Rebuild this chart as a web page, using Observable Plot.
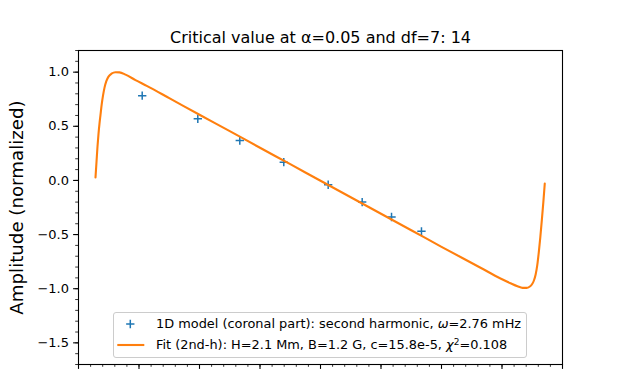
<!DOCTYPE html>
<html>
<head>
<meta charset="utf-8">
<script src="https://cdn.jsdelivr.net/npm/d3@7"></script>
<script src="https://cdn.jsdelivr.net/npm/@observablehq/plot@0.6"></script>
<style>
  html, body { margin: 0; padding: 0; background: #fff; }
  #wrap { position: relative; width: 624px; height: 372px; font-family: "DejaVu Sans", sans-serif; }
  #legend { position: absolute; left: 113px; top: 312px; width: 414px; height: 46px; box-sizing: border-box;
            border: 1px solid #cccccc; border-radius: 3px; background: rgba(255,255,255,0.8); font-size: 12.9px; color: #000; }
  .row { position: absolute; left: 0; height: 16px; line-height: 16px; white-space: nowrap; }
  .row svg { position: absolute; left: 0; top: 0; }
  .row span.t { position: absolute; left: 42px; top: 0; }
  sup { font-size: 0.7em; vertical-align: 0; position: relative; top: -0.5em; line-height: 0; }
</style>
</head>
<body>
<div id="wrap"></div>
<script>
// ---- data ----
const pointX = [1.053, 1.972, 2.666, 3.393, 4.127, 4.689, 5.174, 5.669];
const pointY = [0.783, 0.569, 0.369, 0.169, -0.040, -0.200, -0.338, -0.470];

const fitX = [0.281, 0.298, 0.314, 0.331, 0.347, 0.364, 0.383, 0.405, 0.430, 0.460, 0.496, 0.545, 0.612, 0.678, 0.777, 0.942, 1.136, 1.500, 2.000, 2.500, 3.000, 3.500, 4.000, 4.500, 5.000, 5.500, 6.000, 6.645, 6.975, 7.140, 7.256, 7.339, 7.405, 7.455, 7.496, 7.529, 7.557, 7.583, 7.608, 7.633, 7.658, 7.683, 7.707];
const fitY = [0.028, 0.175, 0.313, 0.433, 0.525, 0.608, 0.700, 0.783, 0.857, 0.917, 0.959, 0.986, 0.999, 0.998, 0.977, 0.927, 0.871, 0.760, 0.607, 0.455, 0.302, 0.150, -0.003, -0.155, -0.308, -0.460, -0.613, -0.806, -0.906, -0.949, -0.977, -0.992, -0.992, -0.982, -0.959, -0.922, -0.866, -0.783, -0.664, -0.525, -0.369, -0.203, -0.028];

const yMajorTicks = [-1.5, -1.0, -0.5, 0.0, 0.5, 1.0];
const yMinorTicks = d3.range(-17, 13).map(v => v / 10);
const xMajorTicks = d3.range(0, 9);
const xMinorTicks = d3.range(0, 41).map(v => v / 5);

const titleText = "Critical value at α=0.05 and df=7: 14";
const yLabelText = "Amplitude (normalized)";

const points = pointX.map((x, i) => ({x, y: pointY[i]}));
const fit = fitX.map((x, i) => ({x, y: fitY[i]}));

const fmt = d => d.toFixed(1).replace("-", "\u2212");

const chart = Plot.plot({
  width: 624,
  height: 372,
  marginLeft: 78,
  marginRight: 62,
  marginTop: 50,
  marginBottom: 8,
  x: {domain: [0, 8]},
  y: {domain: [-1.7, 1.2]},
  style: {fontFamily: "DejaVu Sans", fontSize: "13px", color: "#000", background: "#fff"},
  marks: [
    Plot.axisY({ticks: yMinorTicks, tickSize: 2.8, tickFormat: () => "", label: null, strokeWidth: 0.8}),
    Plot.axisY({ticks: yMajorTicks, tickSize: 4.9, tickPadding: 4.6, tickFormat: fmt, label: null, strokeWidth: 1.1, fontSize: 13}),
    Plot.axisX({ticks: xMinorTicks, tickSize: 2.8, tickFormat: () => "", label: null, strokeWidth: 0.8}),
    Plot.axisX({ticks: xMajorTicks, tickSize: 4.9, tickFormat: () => "", label: null, strokeWidth: 1.1}),
    Plot.dot(points, {x: "x", y: "y", symbol: "plus", stroke: "#1f77b4", r: 2.8, strokeWidth: 1.5}),
    Plot.line(fit, {x: "x", y: "y", stroke: "#ff7f0e", strokeWidth: 2.1, curve: "monotone-x"}),
    Plot.frame({stroke: "#000", strokeWidth: 1.1}),
    Plot.text([titleText], {frameAnchor: "top", lineAnchor: "bottom", dy: -8, fontSize: 16, fill: "#000"}),
    Plot.text([yLabelText], {frameAnchor: "left", textAnchor: "middle", rotate: -90, dx: -61, fontSize: 18.2, fill: "#000"})
  ]
});

const wrap = document.getElementById("wrap");
wrap.appendChild(chart);

const legend = document.createElement("div");
legend.id = "legend";
legend.innerHTML = `
  <div class="row" style="top:3px;width:100%">
    <svg width="40" height="16"><path d="M16.3,3.85V12.15M12.15,8H20.45" stroke="#1f77b4" stroke-width="1.5" fill="none"/></svg>
    <span class="t">1D model (coronal part): second harmonic, <i>ω</i>=2.76 mHz</span>
  </div>
  <div class="row" style="top:24px;width:100%">
    <svg width="40" height="16"><line x1="3.3" y1="8" x2="30.3" y2="8" stroke="#ff7f0e" stroke-width="2.1"/></svg>
    <span class="t">Fit (2nd-h): H=2.1 Mm, B=1.2 G, c=15.8e-5, <i>χ</i><sup>2</sup>=0.108</span>
  </div>`;
wrap.appendChild(legend);
</script>
</body>
</html>
